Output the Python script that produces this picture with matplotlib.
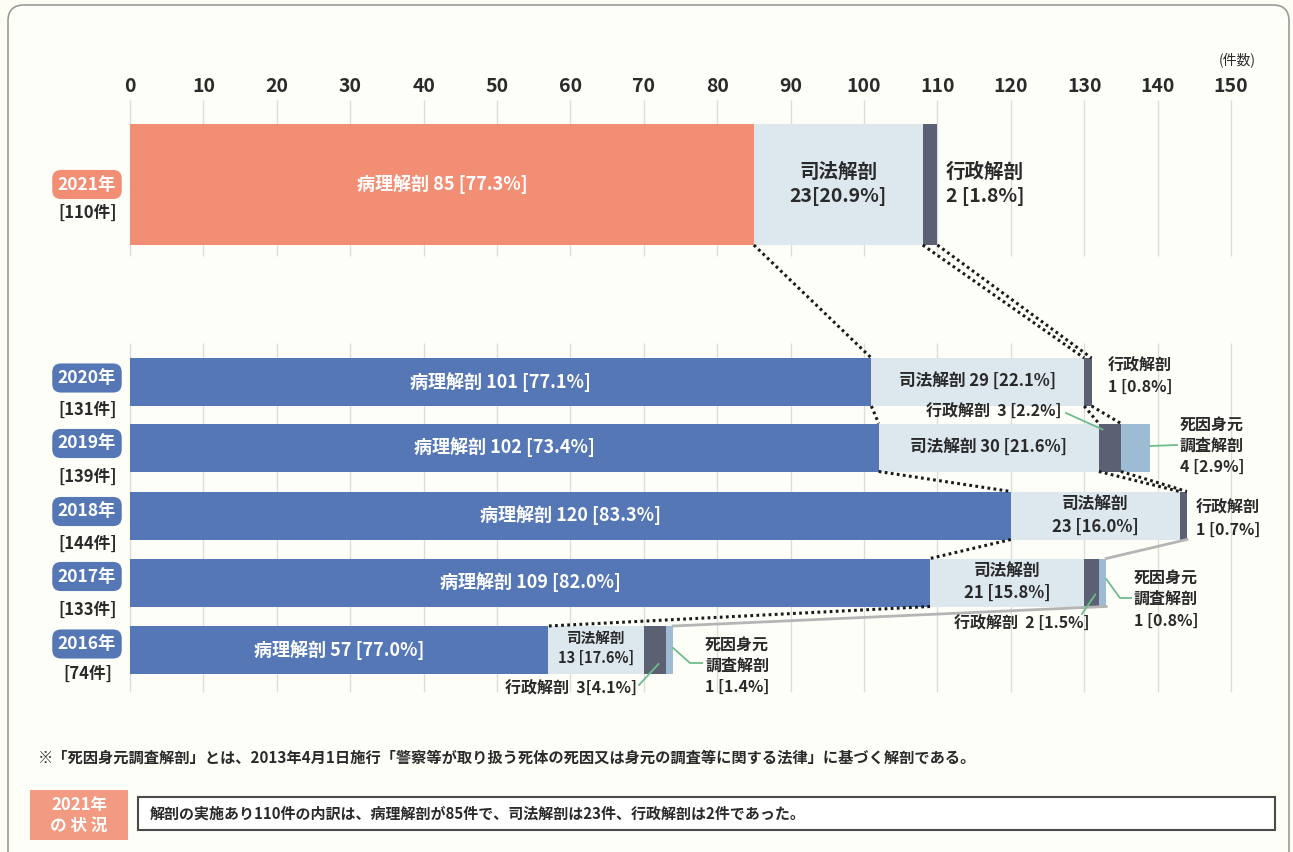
import matplotlib
matplotlib.use('Agg')
import matplotlib.pyplot as plt
import numpy as np
from matplotlib.patches import FancyBboxPatch, Rectangle

plt.rcParams['font.family'] = ['Noto Sans CJK JP', 'DejaVu Sans']

# ---------------- data ----------------
years = ['2021年', '2020年', '2019年', '2018年', '2017年', '2016年']
totals = [110, 131, 139, 144, 133, 74]
pathology = [85, 101, 102, 120, 109, 57]
judicial = [23, 29, 30, 23, 21, 13]
administrative = [2, 1, 3, 1, 2, 3]
identity = [0, 0, 4, 0, 1, 1]
pct_path = ['77.3', '77.1', '73.4', '83.3', '82.0', '77.0']
pct_jud = ['20.9', '22.1', '21.6', '16.0', '15.8', '17.6']
pct_adm = ['1.8', '0.8', '2.2', '0.7', '1.5', '4.1']
pct_id = ['', '', '2.9', '', '0.8', '1.4']
ticks = list(range(0, 151, 10))

# ---------------- layout / style ----------------
W, H = 1293, 852
PX0, PXU = 130.0, 7.34          # pixel of value 0, pixels per unit
bar_y = [184.5, 382, 447.5, 515.5, 582.5, 650]
bar_h = [121, 48, 48, 48, 48, 48]

C_ORANGE = '#F28E74'
C_BLUE = '#5577B5'
C_JUD = '#DDE7EE'
C_ADM = '#5B6172'
C_ID = '#9DBBD3'
C_TXT = '#2a2a2a'
C_LEAD = '#6DBE8C'
BG = '#FDFDF6'


def d2p(v):
    return PX0 + v * PXU


def p2d(p):
    return (p - PX0) / PXU


fig = plt.figure(figsize=(W / 100, H / 100), dpi=100, facecolor=BG)
ax = fig.add_axes([0, 0, 1, 1])
ax.set_xlim(p2d(0), p2d(W))
ax.set_ylim(H, 0)
ax.axis('off')
ax.patch.set_alpha(0)
deco = fig.add_axes([0, 0, 1, 1])
deco.set_xlim(0, W)
deco.set_ylim(H, 0)
deco.axis('off')
deco.patch.set_alpha(0)

# outer frame (behind everything)
frame = FancyBboxPatch((8, 5), 1281, 900, boxstyle='round,pad=0,rounding_size=16',
                       fc='#FEFEF9', ec='#9a9a9a', lw=1.2, transform=deco.transData, zorder=-5)
ax.add_patch(frame)

# grid lines
ax.vlines(ticks, 100, 256, color='#dcdcdc', lw=1, zorder=0)
ax.vlines(ticks, 343, 692, color='#dcdcdc', lw=1, zorder=0)

# tick labels on top
for v in ticks:
    ax.text(v, 86, str(v), ha='center', va='center', fontsize=14, fontweight='bold',
            color=C_TXT)
deco.text(1237, 60, '(件数)', ha='center', va='center', fontsize=10, color=C_TXT)

# bars
path_colors = [C_ORANGE] + [C_BLUE] * 5
left = np.zeros(len(years))
for vals, col in [(pathology, path_colors), (judicial, C_JUD),
                  (administrative, C_ADM), (identity, C_ID)]:
    ax.barh(bar_y, vals, left=left, height=bar_h, color=col, edgecolor='none', zorder=2)
    left = left + np.array(vals)

bounds = np.cumsum(np.column_stack([np.zeros(len(years)), pathology, judicial,
                                    administrative, identity]), axis=1)

# connectors between consecutive years
connect = [
    (0, 1, [(1, 'dot'), (2, 'dot'), (3, 'dot')]),
    (1, 2, [(1, 'dot'), (2, 'dot'), (3, 'dot')]),
    (2, 3, [(1, 'dot'), (2, 'dot'), (3, 'dot')]),
    (3, 4, [(1, 'dot'), (4, 'solid')]),
    (4, 5, [(1, 'dot'), (4, 'solid')]),
]
for up, lo, links in connect:
    y0 = bar_y[up] + bar_h[up] / 2
    y1 = bar_y[lo] - bar_h[lo] / 2
    for k, st in links:
        if st == 'dot':
            ax.plot([bounds[up, k], bounds[lo, k]], [y0, y1], color='#1a1a1a', lw=2.2,
                    linestyle=(0, (0.9, 1.1)), zorder=3)
        else:
            ax.plot([bounds[up, k], bounds[lo, k]], [y0, y1], color='#b5b5b5', lw=2,
                    zorder=3)

# pathology labels (white)
for i in range(len(years)):
    ax.text(pathology[i] / 2, bar_y[i], f'病理解剖 {pathology[i]} [{pct_path[i]}%]',
            ha='center', va='center', color='white', fontsize=13, fontweight='bold', zorder=4)


def lines(x, ys, txts, fs, ha='center', trans_ax=ax):
    for y, t in zip(ys, txts):
        trans_ax.text(x, y, t, ha=ha, va='center', fontsize=fs, fontweight='bold',
                      color=C_TXT, zorder=5)


# judicial labels
jc = [(bounds[i, 1] + bounds[i, 2]) / 2 for i in range(len(years))]
lines(jc[0], [172, 197], ['司法解剖', f'{judicial[0]}[{pct_jud[0]}%]'], 14)
lines(jc[1], [382], [f'司法解剖 {judicial[1]} [{pct_jud[1]}%]'], 12)
lines(jc[2], [448], [f'司法解剖 {judicial[2]} [{pct_jud[2]}%]'], 12)
lines(jc[3], [504, 527], ['司法解剖', f'{judicial[3]} [{pct_jud[3]}%]'], 12)
lines(jc[4], [571, 593], ['司法解剖', f'{judicial[4]} [{pct_jud[4]}%]'], 12)
lines(jc[5], [638, 658], ['司法解剖', f'{judicial[5]} [{pct_jud[5]}%]'], 10.5)

# administrative / identity labels (outside)
lines(985, [172, 197], ['行政解剖', f'{administrative[0]} [{pct_adm[0]}%]'], 14, trans_ax=deco)
lines(1140, [366, 387], ['行政解剖', f'{administrative[1]} [{pct_adm[1]}%]'], 11.5, trans_ax=deco)
lines(1062, [412], [f'行政解剖  {administrative[2]} [{pct_adm[2]}%]'], 11.5, ha='right', trans_ax=deco)
lines(1212, [425, 446, 467], ['死因身元', '調査解剖', f'{identity[2]} [{pct_id[2]}%]'], 11.5, trans_ax=deco)
lines(1228, [508, 530], ['行政解剖', f'{administrative[3]} [{pct_adm[3]}%]'], 11.5, trans_ax=deco)
lines(1090, [624], [f'行政解剖  {administrative[4]} [{pct_adm[4]}%]'], 11.5, ha='right', trans_ax=deco)
lines(1166, [578, 599, 621], ['死因身元', '調査解剖', f'{identity[4]} [{pct_id[4]}%]'], 11.5, trans_ax=deco)
lines(637, [689], [f'行政解剖  {administrative[5]}[{pct_adm[5]}%]'], 11.5, ha='right', trans_ax=deco)
lines(737, [645, 666, 687], ['死因身元', '調査解剖', f'{identity[5]} [{pct_id[5]}%]'], 11.5, trans_ax=deco)

# leader lines (anchored on segments)
ax.plot([bounds[2, 2] + 0.5, p2d(1066)], [bar_y[2] - 18, 413], color=C_LEAD, lw=1.3, zorder=4)
ax.plot([bounds[2, 4], p2d(1177)], [446, 445], color=C_LEAD, lw=1.3, zorder=4)
ax.plot([bounds[4, 2] + 1.5, p2d(1082)], [bar_y[4] + 12, 614], color=C_LEAD, lw=1.3, zorder=4)
ax.plot([bounds[4, 4], p2d(1120), p2d(1131)], [579, 598, 598], color=C_LEAD, lw=1.3, zorder=4)
ax.plot([bounds[5, 2] + 2, p2d(639)], [bar_y[5] + 14, 685], color=C_LEAD, lw=1.3, zorder=4)
ax.plot([bounds[5, 4], p2d(690), p2d(702)], [648, 663, 663], color=C_LEAD, lw=1.3, zorder=4)

# year labels
box_dy = [0, -4, -4, -4, -6, -6]
cnt_dy = [28, 28, 29, 28, 27, 24]
for i, yl in enumerate(years):
    fc = C_ORANGE if i == 0 else C_BLUE
    deco.text(87, bar_y[i] + box_dy[i], yl, ha='center', va='center', color='white',
              fontsize=12.5, fontweight='bold',
              bbox=dict(boxstyle='round,pad=0.32,rounding_size=0.5', fc=fc, ec='none'))
    deco.text(88, bar_y[i] + cnt_dy[i], f'[{totals[i]}件]', ha='center', va='center',
              fontsize=12, color=C_TXT, fontweight='bold')

# footnote
deco.text(38, 757, '※「死因身元調査解剖」とは、2013年4月1日施行「警察等が取り扱う死体の死因又は身元の調査等に関する法律」に基づく解剖である。',
          ha='left', va='center', fontsize=11, fontweight='bold', color=C_TXT)

# bottom summary box
deco.add_patch(Rectangle((30, 790), 98, 50, fc='#F39A82', ec='none'))
deco.text(79, 805, '2021年', ha='center', va='center', color='white', fontsize=12, fontweight='bold')
deco.text(79, 826, 'の 状 況', ha='center', va='center', color='white', fontsize=12, fontweight='bold')
deco.add_patch(Rectangle((138, 797), 1137, 33, fc='white', ec='#4a4a4a', lw=1.5))
deco.text(150, 814, '解剖の実施あり110件の内訳は、病理解剖が85件で、司法解剖は23件、行政解剖は2件であった。',
          ha='left', va='center', fontsize=10.8, fontweight='bold', color=C_TXT)

fig.savefig('out.png', dpi=100, facecolor=BG)
